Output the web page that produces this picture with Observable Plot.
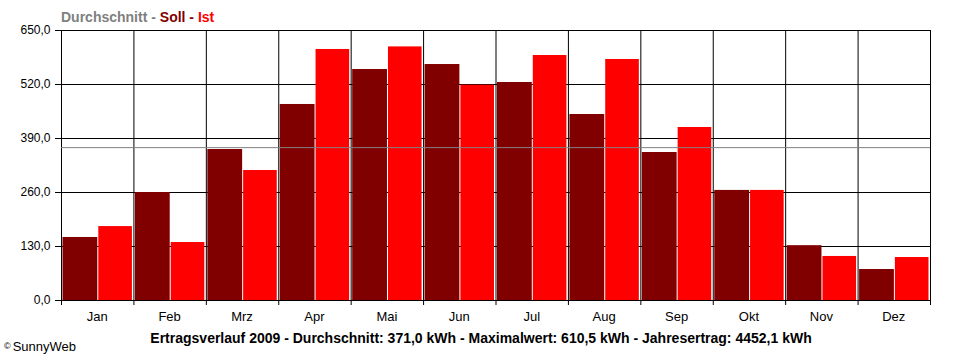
<!DOCTYPE html>
<html><head><meta charset="utf-8">
<script src="https://cdn.jsdelivr.net/npm/d3@7"></script>
<script src="https://cdn.jsdelivr.net/npm/@observablehq/plot@0.6"></script>
<style>
body{margin:0;background:#fff;}
#wrap{position:relative;width:960px;height:360px;font-family:"Liberation Sans",Arial,sans-serif;}
.t{position:absolute;white-space:nowrap;line-height:1;}
</style></head><body><div id="wrap"></div>
<script>
const months = ["Jan","Feb","Mrz","Apr","Mai","Jun","Jul","Aug","Sep","Okt","Nov","Dez"];
const soll = [151.7, 260, 363.5, 471.9, 556.1, 568.1, 524.8, 447.8, 356.3, 265, 132, 74.6];
const ist = [178, 139.6, 313, 604.3, 610.5, 518.4, 589.8, 580.2, 416.5, 265, 106, 103.5];
const yTicks = [0, 130, 260, 390, 520, 650];
const average = 368;
const legendParts = [["Durchschnitt", "#808080"], [" - ", "#808080"], ["Soll", "#800000"], [" - ", "#800000"], ["Ist", "#ff0000"]];
const caption = "Ertragsverlauf 2009 - Durchschnitt: 371,0 kWh - Maximalwert: 610,5 kWh - Jahresertrag: 4452,1 kWh";
const credit = "SunnyWeb";

const W = 960, H = 360, mL = 61, mR = 30, mT = 30, mB = 60;
const bw = (W - mL - mR) / months.length;
const rows = months.map((m, i) => ({month: m, soll: soll[i], ist: ist[i]}));
const fmt = d => d.toFixed(1).replace(".", ",");

const plot = Plot.plot({
  width: W, height: H,
  marginLeft: mL, marginRight: mR, marginTop: mT, marginBottom: mB,
  style: {fontFamily: "'Liberation Sans', Arial, sans-serif", fontSize: "12px", color: "black", background: "white"},
  x: {type: "band", domain: months, padding: 0, round: false, label: null},
  y: {domain: [0, 650], label: null},
  marks: [
    Plot.ruleY(yTicks, {stroke: "black", insetLeft: -6}),
    Plot.ruleX(months, {x: d => d, dx: -bw / 2, stroke: "black", insetBottom: -5}),
    Plot.ruleX([months[months.length - 1]], {x: d => d, dx: bw / 2, stroke: "black", insetBottom: -5}),
    Plot.barY(rows, {x: "month", y: "soll", fill: "#800000", insetLeft: 1.5, insetRight: bw - 36.3}),
    Plot.barY(rows, {x: "month", y: "ist", fill: "#ff0000", insetLeft: 37.3, insetRight: 1.5}),
    Plot.ruleY([average], {stroke: "#808080"}),
    Plot.axisY({ticks: yTicks, tickSize: 0, tickPadding: 11, tickFormat: fmt}),
    Plot.axisX({tickSize: 0, tickPadding: 11, fontSize: 13, dx: -0.5})
  ]
});
const wrap = document.getElementById("wrap");
wrap.appendChild(plot);

const leg = document.createElement("div");
leg.className = "t";
leg.style.cssText = "left:61px;top:10px;font-weight:bold;font-size:14px;";
legendParts.forEach(([txt, col]) => {
  const s = document.createElement("span");
  s.textContent = txt; s.style.color = col; leg.appendChild(s);
});
wrap.appendChild(leg);

const cap = document.createElement("div");
cap.className = "t";
cap.style.cssText = "left:481px;top:331px;transform:translateX(-50%);font-weight:bold;font-size:14px;color:#000;";
cap.textContent = caption;
wrap.appendChild(cap);

const cr = document.createElement("div");
cr.className = "t";
cr.style.cssText = "left:4px;top:340px;font-size:13px;color:#000;";
const sym = document.createElement("span");
sym.textContent = "©"; sym.style.cssText = "font-size:9px;vertical-align:2px;margin-right:2px;";
cr.appendChild(sym);
cr.appendChild(document.createTextNode(credit));
wrap.appendChild(cr);
</script>
</body></html>
